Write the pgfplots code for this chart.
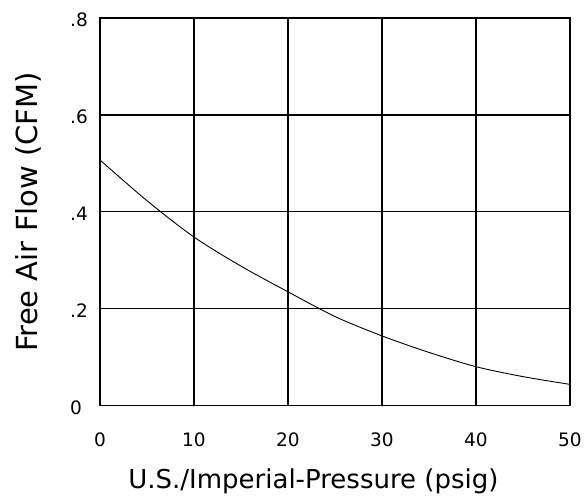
\documentclass[border=0pt]{standalone}
\usepackage{fontspec}
\setmainfont{DejaVu Sans}
\usepackage{pgfplots}
\pgfplotsset{compat=1.18}
\begin{document}
\begin{tikzpicture}[x=1pt,y=1pt]
\useasboundingbox (-100,-90.3) rectangle (488,405.7);
\begin{axis}[
    at={(0,0)}, anchor=south west,
    scale only axis,
    width=470pt, height=387.7pt,
    xmin=0, xmax=50,
    ymin=0, ymax=0.8,
    xtick={0,10,20,30,40,50},
    ytick={0,0.2,0.4,0.6,0.8},
    yticklabels={0,.2,.4,.6,.8},
    /pgf/number format/assume math mode=true,
    grid=major,
    grid style={black, line width=1.2pt},
    axis line style={black, line width=1.3pt},
    major tick length=0pt,
    tick label style={font=\fontsize{18.5}{22}\selectfont},
    xticklabel style={anchor=base, yshift=-41pt, inner sep=0pt},
    yticklabel style={anchor=base west, xshift=-30pt, yshift=-8.5pt, inner sep=0pt},
    xlabel={U.S./Imperial-Pressure\ (psig)},
    ylabel={Free\ Air\ Flow\ (CFM)},
    xlabel style={font=\fontsize{26}{30}\selectfont, at={([yshift=-83pt]rel axis cs:0.454,0)}, anchor=base, inner sep=0pt},
    ylabel style={font=\fontsize{29}{33}\selectfont, at={([xshift=-62pt]rel axis cs:0,0.5)}, anchor=base, inner sep=0pt},
]
\addplot[black, line width=0.9pt, smooth] coordinates {
    (0,0.507)(5,0.423)(10,0.348)(15,0.288)(20,0.235)(25,0.184)
    (30,0.144)(35,0.110)(40,0.0805)(45,0.060)(50,0.044)
};
\end{axis}
\end{tikzpicture}
\end{document}
